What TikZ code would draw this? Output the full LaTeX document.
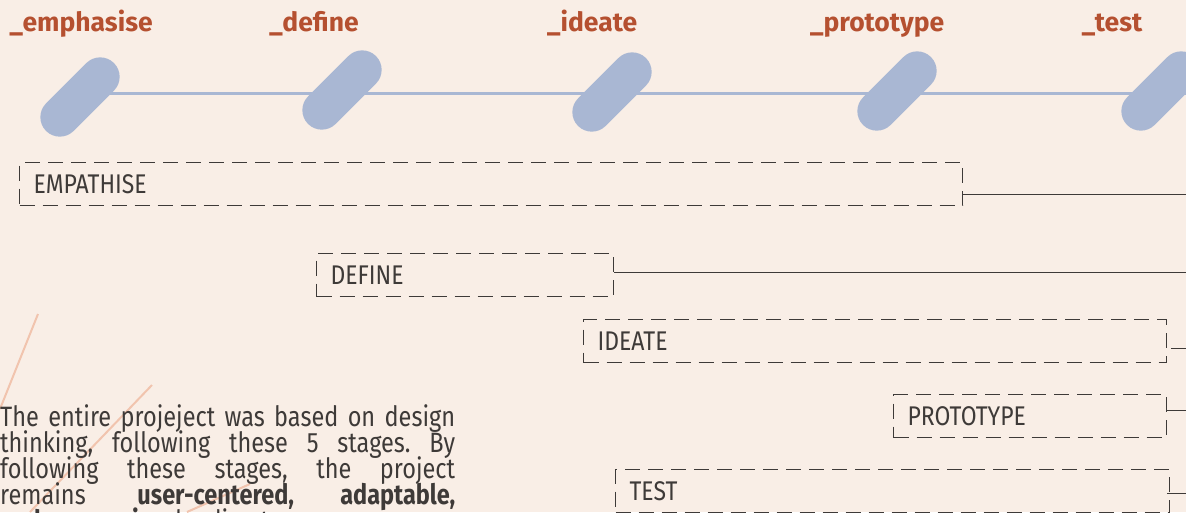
\documentclass[tikz,border=0pt]{standalone}
\usepackage{fontspec}
\setmainfont{Fira Sans}
\newfontfamily\stagefont[FakeStretch=0.85]{Fira Sans}
\newfontfamily\bodyfont[FakeStretch=0.84]{Fira Sans}
\usepackage{tikz}
\usetikzlibrary{positioning,shapes.misc}
\newcommand{\tightlines}{\lineskiplimit=-20pt\relax}
\definecolor{paper}{RGB}{249,238,230}
\definecolor{pillblue}{RGB}{169,183,211}
\definecolor{rust}{RGB}{181,80,48}
\definecolor{ink}{RGB}{62,58,56}
\definecolor{peach}{RGB}{241,196,174}
\tikzset{
  heading/.style={anchor=base,text=rust,font=\fontsize{26.5}{30}\selectfont\bfseries,inner sep=0pt},
  pill/.style={rounded rectangle,fill=pillblue,draw=none,minimum width=96pt,
    minimum height=39pt,rotate=45,inner sep=0pt},
  track/.style={draw=pillblue,line width=3pt},
  phase/.style={draw=ink,line width=1.2pt,dash pattern=on 15pt off 8pt,
    anchor=north west,minimum height=43pt,inner xsep=14pt,align=left,
    text=ink,font=\stagefont\fontsize{27}{28}\selectfont},
  link/.style={draw=ink,line width=1pt},
  stroke/.style={draw=peach,line width=2pt}
}
\begin{document}
\begin{tikzpicture}[x=1pt,y=1pt]
  \useasboundingbox (0,0) rectangle (1186,-512);
  \clip (0,0) rectangle (1186,-512);
  \fill[paper] (0,0) rectangle (1186,-512);

  % stage names along the top
  \node[heading] (h-emph) at (81,-31) {\_emphasise};
  \node[heading] (h-def) at (314,-31) {\_define};
  \node[heading] (h-ide) at (592,-31) {\_ideate};
  \node[heading] (h-pro) at (877,-31) {\_prototype};
  \node[heading] (h-tes) at (1112,-31) {\_test};

  % timeline with the markers on it
  \coordinate (track-in) at (80,-93);
  \coordinate (track-out) at (1186,-93);
  \draw[track] (track-in) -- (track-out);
  \node[pill] (p-emph) at (80,-97) {};
  \node[pill] (p-def) at (342,-90) {};
  \node[pill] (p-ide) at (612,-92) {};
  \node[pill] (p-pro) at (897,-91) {};
  \node[pill] (p-tes) at (1161,-91) {};

  % how long each phase runs
  \node[phase,text width=915pt] (empathise) at (19,-162) {EMPATHISE};
  \node[phase,text width=269pt] (define) at (316,-253) {DEFINE};
  \node[phase,text width=555pt] (ideate) at (583,-319) {IDEATE};
  \node[phase,text width=245pt] (prototype) at (893,-394) {PROTOTYPE};
  \node[phase,text width=526pt] (test) at (615,-469) {TEST};

  \coordinate (empathise-out) at (1186,-194);
  \coordinate (define-out) at (1186,-272);
  \coordinate (ideate-out) at (1186,-348);
  \coordinate (prototype-out) at (1186,-410);
  \coordinate (test-out) at (1186,-493);
  \draw[link] (empathise.east |- empathise-out) -- (empathise-out);
  \draw[link] (define.east |- define-out) -- (define-out);
  \draw[link,shorten <=4pt] (ideate.east |- ideate-out) -- (ideate-out);
  \draw[link] (prototype.east |- prototype-out) -- (prototype-out);
  \draw[link] ([xshift=-3pt]test.east |- test-out) -- (test-out);

  % loose strokes behind the text
  \draw[stroke] (38,-314) -- (0,-409);
  \draw[stroke] (152,-385) -- (30,-512);
  \draw[stroke] (187,-512) -- (250,-484);

  \node[anchor=north west,inner sep=0pt,text width=455pt,align=justify,
    text=ink,font=\bodyfont\fontsize{28}{26}\selectfont\frenchspacing\tightlines]
    (about) at (0,-404)
    {The entire projeject was based on design\linebreak
     thinking, following these 5 stages. By\linebreak
     following these stages, the project\linebreak
     remains \textbf{user-centered, adaptable,}\linebreak
     \textbf{and responsive}, leading to};
\end{tikzpicture}
\end{document}
